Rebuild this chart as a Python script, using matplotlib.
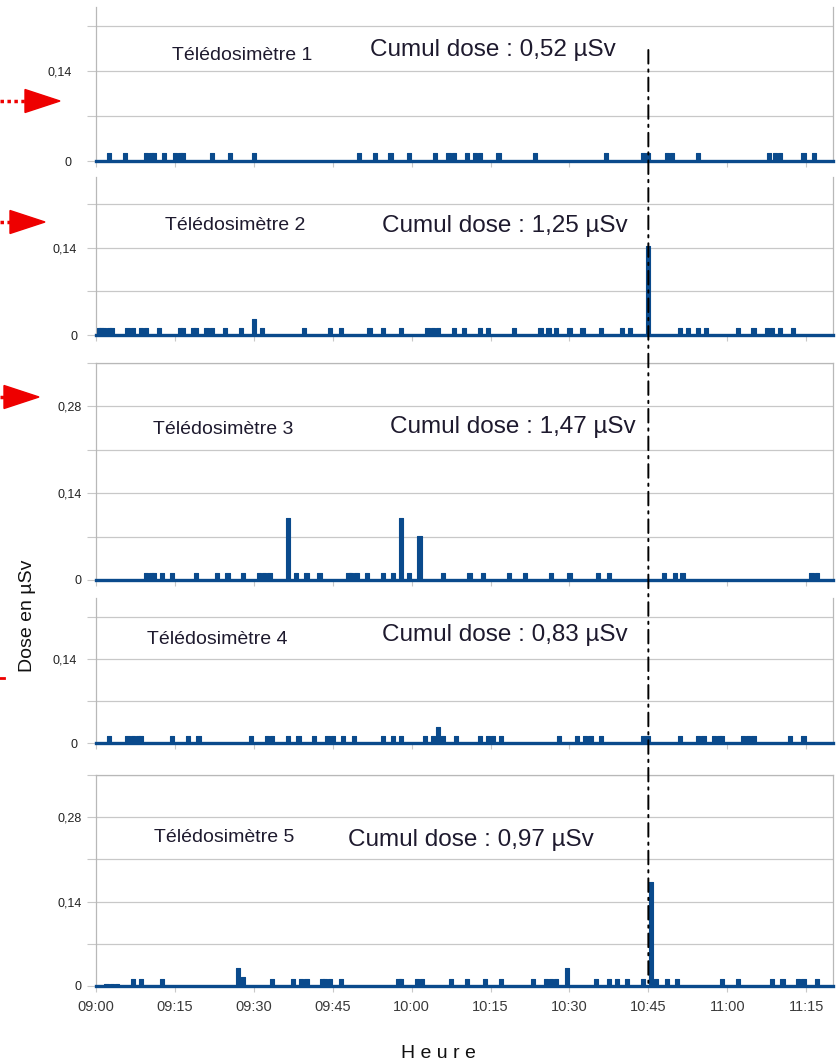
import matplotlib
matplotlib.use("Agg")
import matplotlib.pyplot as plt
from matplotlib.patches import Polygon, ConnectionPatch
from matplotlib.lines import Line2D

plt.rcParams['font.family'] = ['Liberation Sans', 'DejaVu Sans']

# pulse times in minutes after 09:00, dose per pulse in µSv
t1 = [2.5, 5.5, 9.5, 10.5, 11, 13, 15, 16, 16.5, 22, 25.5, 30, 50, 53, 56, 59.5,
      64.5, 67, 68, 70.5, 72, 73, 76.5, 83.5, 97, 104, 105, 108.5, 109.5, 114.5,
      128, 129, 130, 134.5, 136.5]
h1 = [0.012, 0.012, 0.012, 0.012, 0.012, 0.012, 0.012, 0.012, 0.012, 0.012, 0.012, 0.012,
      0.012, 0.012, 0.012, 0.012, 0.012, 0.012, 0.012, 0.012, 0.012, 0.012, 0.012, 0.012,
      0.012, 0.012, 0.012, 0.012, 0.012, 0.012, 0.012, 0.012, 0.012, 0.012, 0.012]

t2 = [0.5, 1, 1.5, 2.5, 3, 6, 7, 8.5, 9.5, 12, 16, 16.5, 18.5, 19, 21, 22, 24.5, 27.5,
      30, 31.5, 39.5, 44.5, 46.5, 52, 54.5, 58, 63, 64, 65, 68, 70, 73, 74.5, 79.5,
      84.5, 86, 87.5, 90, 92.5, 96, 100, 101.5, 105, 111, 112.5, 114.5, 116, 122, 125,
      127.5, 128.5, 130, 132.5]
h2 = [0.012, 0.012, 0.012, 0.012, 0.012, 0.012, 0.012, 0.012, 0.012, 0.012, 0.012, 0.012,
      0.012, 0.012, 0.012, 0.012, 0.012, 0.012, 0.025, 0.012, 0.012, 0.012, 0.012, 0.012,
      0.012, 0.012, 0.012, 0.012, 0.012, 0.012, 0.012, 0.012, 0.012, 0.012, 0.012, 0.012,
      0.012, 0.012, 0.012, 0.012, 0.012, 0.012, 0.143, 0.012, 0.012, 0.012, 0.012, 0.012,
      0.012, 0.012, 0.012, 0.012, 0.012]

t3 = [9.5, 10.5, 11, 12.5, 14.5, 19, 23, 25, 28, 31, 32, 33, 36.5, 38, 40, 42.5, 48,
      48.5, 49.5, 51.5, 54.5, 56.5, 58, 59.5, 61.5, 66, 71, 73.5, 78.5, 81.5, 86.5, 90,
      95.5, 97.5, 108, 110, 111.5, 136, 137]
h3 = [0.012, 0.012, 0.012, 0.012, 0.012, 0.012, 0.012, 0.012, 0.012, 0.012, 0.012, 0.012,
      0.100, 0.012, 0.012, 0.012, 0.012, 0.012, 0.012, 0.012, 0.012, 0.012, 0.100, 0.012,
      0.071, 0.012, 0.012, 0.012, 0.012, 0.012, 0.012, 0.012, 0.012, 0.012, 0.012, 0.012,
      0.012, 0.012, 0.012]

t4 = [2.5, 6, 7, 8, 8.5, 14.5, 17.5, 19.5, 29.5, 32.5, 33.5, 36.5, 38.5, 41.5, 44, 45,
      47, 49, 54.5, 56.5, 58, 62.5, 64, 65, 66, 68.5, 73, 74.5, 75.5, 77, 88, 91.5, 93,
      94, 96, 104, 104.5, 105, 111, 114.5, 115.5, 117.5, 118.5, 119, 123, 124, 125, 132,
      134.5]
h4 = [0.012, 0.012, 0.012, 0.012, 0.012, 0.012, 0.012, 0.012, 0.012, 0.012, 0.012, 0.012,
      0.012, 0.012, 0.012, 0.012, 0.012, 0.012, 0.012, 0.012, 0.012, 0.012, 0.012, 0.027,
      0.012, 0.012, 0.012, 0.012, 0.012, 0.012, 0.012, 0.012, 0.012, 0.012, 0.012, 0.012,
      0.012, 0.012, 0.012, 0.012, 0.012, 0.012, 0.012, 0.012, 0.012, 0.012, 0.012, 0.012,
      0.012]

t5 = [2, 3, 4, 7, 8.5, 12.5, 27, 28, 33.5, 37.5, 39, 40, 43, 43.5, 44.5, 46.5, 57.5, 58,
      61, 62, 67.5, 70.5, 74, 77, 83, 85.5, 86.5, 87.5, 89.5, 95, 97.5, 99, 101, 104,
      105.5, 106.5, 108.5, 110.5, 119, 122, 128.5, 130.5, 133.5, 134.5, 137]
h5 = [0.004, 0.004, 0.004, 0.012, 0.012, 0.012, 0.030, 0.015, 0.012, 0.012, 0.012, 0.012,
      0.012, 0.012, 0.012, 0.012, 0.012, 0.012, 0.012, 0.012, 0.012, 0.012, 0.012, 0.012,
      0.012, 0.012, 0.012, 0.012, 0.030, 0.012, 0.012, 0.012, 0.012, 0.012, 0.173, 0.012,
      0.012, 0.012, 0.012, 0.012, 0.012, 0.012, 0.012, 0.012, 0.012]

names = ["Télédosimètre 1", "Télédosimètre 2", "Télédosimètre 3",
         "Télédosimètre 4", "Télédosimètre 5"]
cumuls = ["Cumul dose : 0,52 µSv", "Cumul dose : 1,25 µSv", "Cumul dose : 1,47 µSv",
          "Cumul dose : 0,83 µSv", "Cumul dose : 0,97 µSv"]
ytick_vals = [0, 0.07, 0.14, 0.21, 0.28, 0.35]
ytick_labels = ["0", "", "0,14", "", "0,28", ""]
xtick_vals = [0, 15, 30, 45, 60, 75, 90, 105, 120, 135]
xtick_labels = ["09:00", "09:15", "09:30", "09:45", "10:00", "10:15",
                "10:30", "10:45", "11:00", "11:15"]
event_time = 105  # 10:45

W, H = 840, 1064
def fx(x):
    return x / W
def fy(y):
    return 1 - y / H

blue = '#0a4a8c'
grid_c = '#c8c8c8'

# panel layout in pixels: (top, zero line), y top value, label pad, top border
panels = [(7, 161, 0.24, 11, False),
          (177, 335, 0.254, 7, False),
          (363, 580, 0.35, 4, True),
          (598, 743, 0.242, 7, False),
          (775, 986, 0.35, 4, True)]
title_pos = [(172, 55), (165, 225), (153, 430), (147, 639), (154, 838)]
cumul_pos = [(370, 50), (382, 226), (390, 427), (382, 635), (348, 840)]

fig = plt.figure(figsize=(W / 100, H / 100), dpi=100)
series = [(t1, h1), (t2, h2), (t3, h3), (t4, h4), (t5, h5)]
axes = []
for i, ((top, zero, ymax, pad, topline), (t, h)) in enumerate(zip(panels, series)):
    ax = fig.add_axes([fx(96), fy(zero), fx(833) - fx(96), (zero - top) / H])
    ax.set_xlim(0, 140.1)
    ax.set_ylim(0, ymax)
    ax.bar(t, h, width=0.8, color=blue, edgecolor=blue, linewidth=0.8,
           joinstyle='round', zorder=3)
    ax.axhline(0, color=blue, lw=2.4, zorder=4, clip_on=False)
    ax.set_yticks([v for v in ytick_vals if v <= ymax + 1e-6])
    ax.set_yticklabels(ytick_labels[:len(ax.get_yticks())])
    ax.yaxis.grid(True, color=grid_c, lw=0.9)
    ax.set_axisbelow(True)
    ax.tick_params(axis='y', length=6.5, color=grid_c, pad=pad, labelsize=9,
                   labelcolor='#222222')
    ax.set_xticks(xtick_vals)
    if i == 4:
        ax.set_xticklabels(xtick_labels)
    else:
        ax.set_xticklabels([])
    ax.tick_params(axis='x', length=4, color=grid_c, labelsize=10.5,
                   labelcolor='#3a3a3a', pad=6)
    for s in ['left', 'right', 'top', 'bottom']:
        ax.spines[s].set_color('#b8b8b8')
        ax.spines[s].set_linewidth(0.9)
    ax.spines['bottom'].set_visible(False)
    ax.spines['top'].set_visible(topline)
    ax.patch.set_alpha(0)
    axes.append(ax)

for i in range(5):
    x, y = title_pos[i]
    fig.text(fx(x), fy(y), names[i], fontsize=14, color='#1e1a2e',
             ha='left', va='center')
    x, y = cumul_pos[i]
    fig.text(fx(x), fy(y), cumuls[i], fontsize=17.5, color='#1e1a2e',
             ha='left', va='center')

# vertical event marker through all panels
con = ConnectionPatch(xyA=(event_time, 0.173), coordsA=axes[0].transData,
                      xyB=(event_time, 0), coordsB=axes[4].transData,
                      color='black', lw=1.4, linestyle=(0, (7, 3, 1.2, 3)), zorder=10)
fig.add_artist(con)

fig.text(fx(28), fy(616), "Dose en µSv", rotation=90, fontsize=14,
         ha='center', va='center', color='#111111')
fig.text(fx(438), fy(1053), "H e u r e", fontsize=14, ha='center', va='center',
         color='#111111')

# red arrows on the left
red = '#ee0000'
arrows = [(0, 25, 101, 35), (0, 10, 222, 35), (0, 4, 397, 35)]
for x0, x1, yc, ln in arrows:
    fig.add_artist(Line2D([fx(x0), fx(x1)], [fy(yc), fy(yc)], color=red, lw=2.5,
                          linestyle=(0, (1, 1)), transform=fig.transFigure))
    fig.add_artist(Polygon([(fx(x1), fy(yc - 11.5)), (fx(x1), fy(yc + 11.5)),
                            (fx(x1 + ln), fy(yc))], closed=True, color=red,
                           transform=fig.transFigure))
fig.add_artist(Line2D([fx(0), fx(4)], [fy(678), fy(678)], color=red, lw=2,
                      transform=fig.transFigure))

fig.savefig("out.png", dpi=100)
